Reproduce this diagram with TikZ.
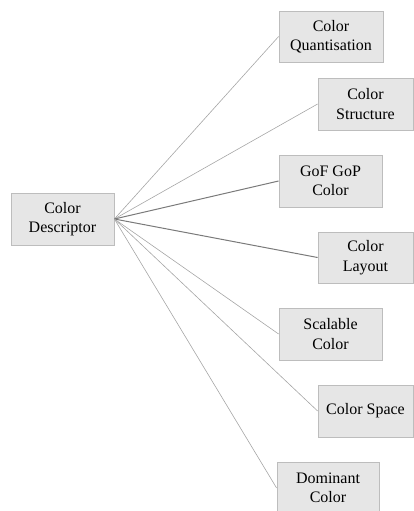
\documentclass[tikz,border=0pt]{standalone}
\usepackage{fontspec}
\setmainfont{Liberation Serif}
\definecolor{boxfill}{HTML}{E6E6E6}
\definecolor{boxline}{HTML}{BDBDBD}
\definecolor{linkthin}{HTML}{A6A6A6}
\definecolor{linkdark}{HTML}{7A7A7A}
\begin{document}
\begin{tikzpicture}[x=1pt,y=-1pt,
  cbox/.style={draw=boxline,fill=boxfill,line width=0.8pt,inner sep=0pt,align=center,
    font=\fontsize{16}{19.5}\selectfont},
  link/.style={draw=linkthin,line width=0.6pt},
  darklink/.style={draw=linkdark,line width=1pt}]
\useasboundingbox (0,0) rectangle (414,511);
\begin{scope}
\clip (0,0) rectangle (414,511);
\node[cbox,minimum width=103pt,minimum height=52pt] (root) at (62.5,219) {Color\\Descriptor};
\node[cbox,minimum width=104pt,minimum height=51pt] (q) at (331,36.5) {Color\\Quantisation};
\node[cbox,minimum width=95pt,minimum height=52pt] (s) at (365.5,104) {Color\\Structure};
\node[cbox,minimum width=103pt,minimum height=52pt] (g) at (330.5,181) {GoF GoP\\Color};
\node[cbox,minimum width=95pt,minimum height=51pt] (l) at (365.5,257.5) {Color\\Layout};
\node[cbox,minimum width=103pt,minimum height=52pt] (sc) at (330.5,334) {Scalable\\Color};
\node[cbox,minimum width=95pt,minimum height=52pt] (sp) at (365.5,411) {Color Space};
\node[cbox,minimum width=102pt,minimum height=52pt] (d) at (328,488) {Dominant\\Color};
\draw[link] (root.east) -- (q.west);
\draw[link] (root.east) -- (s.west);
\draw[darklink] (root.east) -- (g.west);
\draw[darklink] (root.east) -- (l.west);
\draw[link] (root.east) -- (sc.west);
\draw[link] (root.east) -- (sp.west);
\draw[link] (root.east) -- (d.west);
\end{scope}
\end{tikzpicture}
\end{document}
